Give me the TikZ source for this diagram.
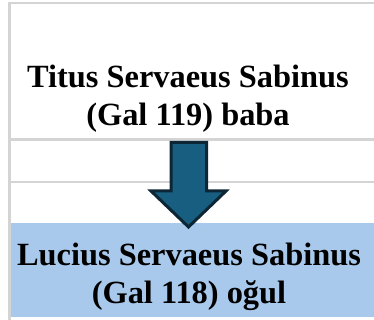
\documentclass[tikz,border=0pt]{standalone}
\usepackage{fontspec}
\setmainfont{Liberation Serif}
\usepackage{xcolor}
\definecolor{gridgray}{HTML}{D4D4D4}
\definecolor{cellblue}{HTML}{A8C9EB}
\definecolor{arrowfill}{HTML}{175E80}
\definecolor{arrowedge}{HTML}{0C2636}

\begin{document}
\begin{tikzpicture}[x=1pt,y=-1pt,
    gridline/.style={gridgray, line width=2.5pt},
    person/.style={font=\fontsize{32.4}{38}\selectfont\bfseries, align=center, anchor=base, inner sep=0pt}]
  \useasboundingbox (0,0) rectangle (374,320);

  % Coloured cell for the son
  \fill[cellblue] (11,223) rectangle (374,317);

  % Sheet grid lines
  \draw[gridline] (8,3) -- (374,3);
  \draw[gridline] (9.5,3) -- (9.5,320);
  \draw[gridline] (11,139.5) -- (374,139.5);
  \draw[gridline] (11,182) -- (374,182);

  % Names (base anchor sits on the last line)
  \node[person] (father) at (188,126) {Titus Servaeus Sabinus\\(Gal 119) baba};
  \node[person] (son) at (189,303) {Lucius Servaeus Sabinus\\(Gal 118) oğul};

  % Block arrow from father to son
  \draw[arrowedge, fill=arrowfill, line width=3pt, line join=miter]
    (171,142.5) -- (206.5,142.5) -- (206.5,191) -- (226,191) -- (188.5,227)
    -- (151,191) -- (171,191) -- cycle;

\end{tikzpicture}
\end{document}
